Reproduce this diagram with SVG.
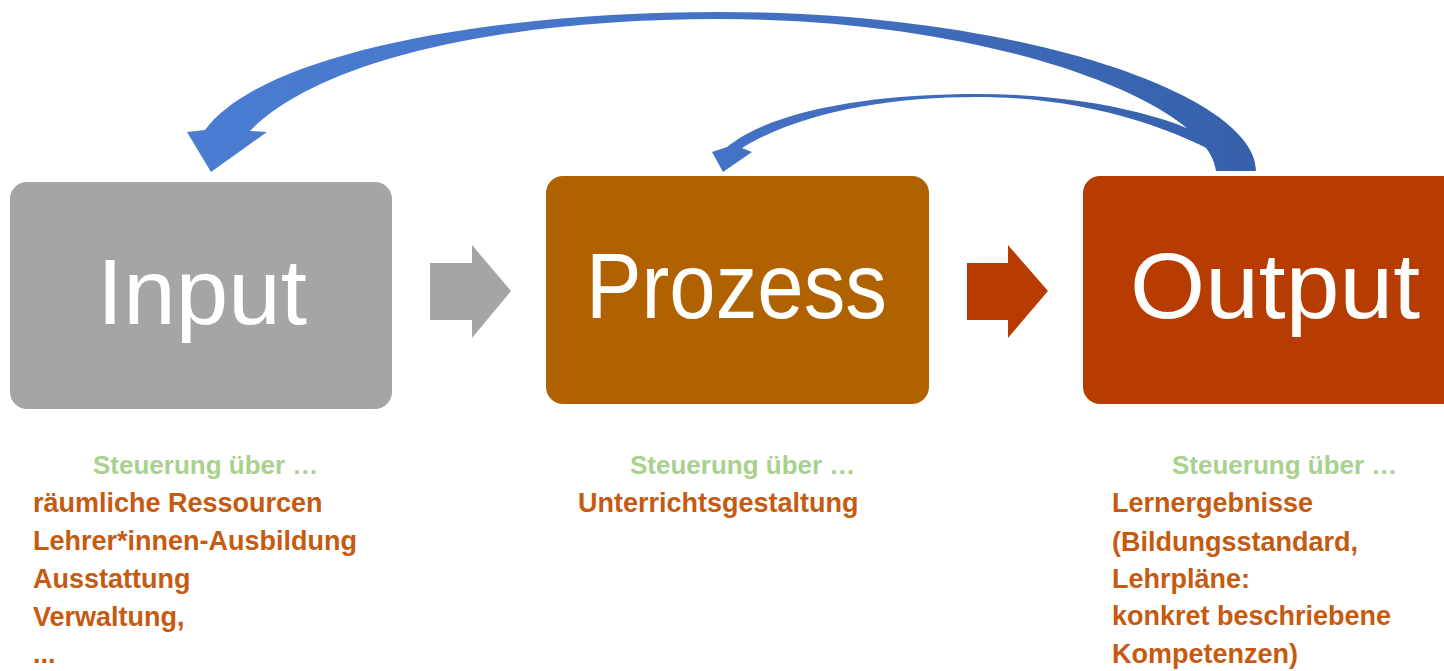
<svg xmlns="http://www.w3.org/2000/svg" width="1444" height="671" viewBox="0 0 1444 671">
<defs>
<linearGradient id="blueGrad" gradientUnits="userSpaceOnUse" x1="190" y1="0" x2="1260" y2="0">
<stop offset="0" stop-color="#4a7dd2"/>
<stop offset="0.5" stop-color="#4472c4"/>
<stop offset="1" stop-color="#3660aa"/>
</linearGradient>
<style>
.big{font-family:"Liberation Sans",Arial,sans-serif;font-size:92px;fill:#ffffff;}
.green{font-family:"Liberation Sans",Arial,sans-serif;font-size:26px;font-weight:bold;fill:#a9d18e;}
.orange{font-family:"Liberation Sans",Arial,sans-serif;font-size:27px;font-weight:bold;fill:#c55a11;}
.fb{fill:url(#blueGrad);}
</style>
</defs>
<rect width="1444" height="671" fill="#ffffff"/>

<g id="connectors">
<path id="arrow-input-prozess" d="M430,263 L472,263 L472,245 L511,291 L472,338 L472,320 L430,320 Z" fill="#a5a5a5"/>
<path id="arrow-prozess-output" d="M967,263 L1008,263 L1008,245 L1048,291 L1008,338 L1008,320 L967,320 Z" fill="#b73c02"/>
<path id="feedback-prozess" class="fb" d="M727,147 C775,108 880,94 977,94 C1080,94 1180,115 1228,150 L1232,162 C1170,125 1080,97 977,97 C890,97 800,112 742,148 L752,152 L723,172 L712,152 Z"/>
<path id="feedback-input" class="fb" d="M1216,171 C1210,105 1000,19 720,19 C500,19 320,60 250,131 L267,132 L211,172 L187,132 L205,130 C260,55 480,12 720,12 C1020,12 1256,95 1256,171 Z"/>
</g>

<g id="node-input">
<rect x="10" y="182" width="382" height="227" rx="17" fill="#a5a5a5"/>
<text class="big" x="97" y="324" textLength="210" lengthAdjust="spacingAndGlyphs">Input</text>
<text class="green" x="93" y="474">Steuerung über …</text>
<text class="orange" x="33" y="512">räumliche Ressourcen</text>
<text class="orange" x="33" y="550">Lehrer*innen-Ausbildung</text>
<text class="orange" x="33" y="588">Ausstattung</text>
<text class="orange" x="33" y="626">Verwaltung,</text>
<text class="orange" x="33" y="663">...</text>
</g>

<g id="node-prozess">
<rect x="546" y="176" width="383" height="228" rx="17" fill="#b06200"/>
<text class="big" x="586" y="318" textLength="301" lengthAdjust="spacingAndGlyphs">Prozess</text>
<text class="green" x="630" y="474">Steuerung über …</text>
<text class="orange" x="578" y="512">Unterrichtsgestaltung</text>
</g>

<g id="node-output">
<rect x="1083" y="176" width="390" height="228" rx="17" fill="#b73c02"/>
<text class="big" x="1130" y="318" textLength="290" lengthAdjust="spacingAndGlyphs">Output</text>
<text class="green" x="1172" y="474">Steuerung über …</text>
<text class="orange" x="1112" y="512">Lernergebnisse</text>
<text class="orange" x="1112" y="551">(Bildungsstandard,</text>
<text class="orange" x="1112" y="588">Lehrpläne:</text>
<text class="orange" x="1112" y="625">konkret beschriebene</text>
<text class="orange" x="1112" y="663">Kompetenzen)</text>
</g>
</svg>
